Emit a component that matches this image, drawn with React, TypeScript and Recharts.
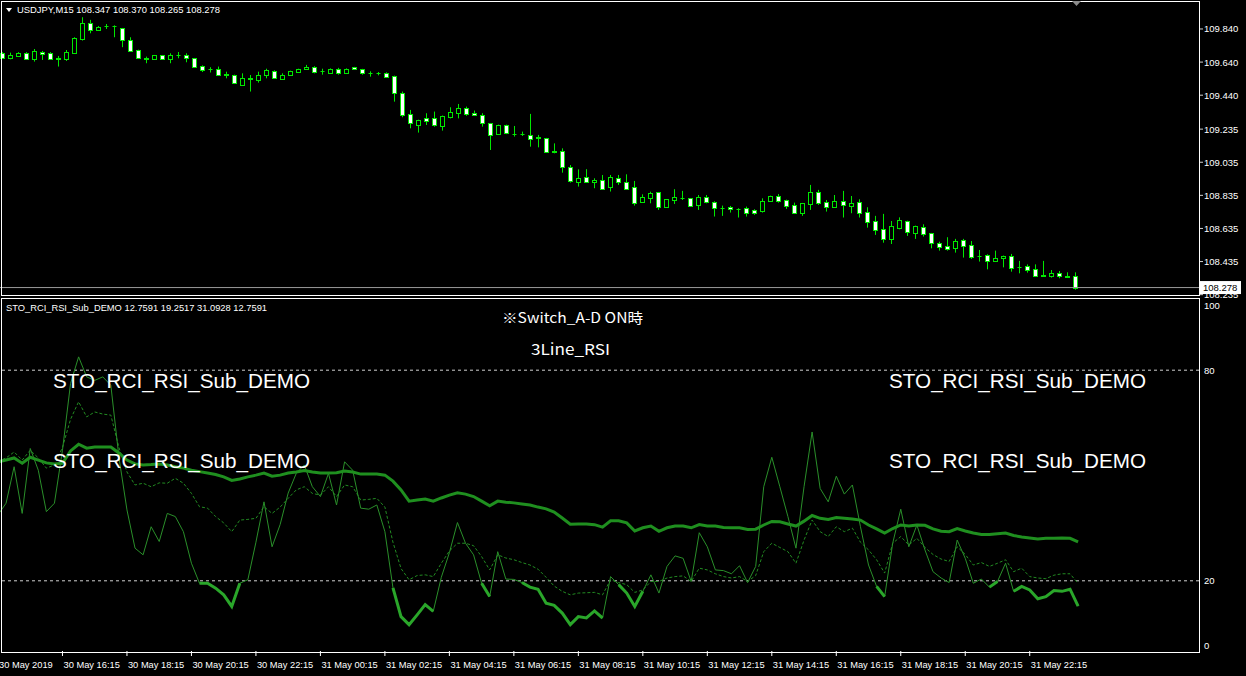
import React from "react"
import { Bar, ComposedChart, Line, LineChart, ReferenceLine, XAxis, YAxis } from "recharts"

const FONT = "'Liberation Sans', Arial, sans-serif"
const LIME = "#00e800"

// USDJPY M15, 30 May 14:15 -> 31 May 23:45
const opens = [
  109.697, 109.663, 109.677, 109.697, 109.661, 109.703, 109.697, 109.663, 109.657, 109.697,
  109.778, 109.874, 109.834, 109.857, 109.859, 109.844, 109.774, 109.713, 109.663, 109.657,
  109.681, 109.657, 109.683, 109.683, 109.663, 109.617, 109.6, 109.597, 109.566, 109.562,
  109.504, 109.54, 109.532, 109.56, 109.588, 109.54, 109.56, 109.58, 109.597, 109.613,
  109.584, 109.576, 109.596, 109.576, 109.609, 109.597, 109.577, 109.574, 109.576, 109.556,
  109.452, 109.325, 109.26, 109.3, 109.3, 109.256, 109.307, 109.335, 109.361, 109.331,
  109.321, 109.27, 109.206, 109.258, 109.205, 109.205, 109.2, 109.186, 109.18, 109.099,
  109.103, 109.004, 108.918, 108.944, 108.918, 108.928, 108.884, 108.938, 108.914, 108.884,
  108.795, 108.821, 108.853, 108.767, 108.807, 108.818, 108.817, 108.777, 108.823, 108.797,
  108.757, 108.765, 108.755, 108.757, 108.747, 108.743, 108.799, 108.831, 108.807, 108.775,
  108.731, 108.783, 108.854, 108.793, 108.767, 108.801, 108.773, 108.793, 108.733, 108.68,
  108.632, 108.572, 108.636, 108.68, 108.61, 108.642, 108.606, 108.545, 108.529, 108.515,
  108.565, 108.535, 108.471, 108.475, 108.441, 108.455, 108.469, 108.405, 108.408, 108.388,
  108.351, 108.35, 108.368, 108.344, 108.347,
]
const highs = [
  109.7, 109.697, 109.7, 109.7, 109.719, 109.707, 109.7, 109.677, 109.713, 109.79,
  109.911, 109.895, 109.858, 109.87, 109.862, 109.846, 109.79, 109.715, 109.673, 109.683,
  109.683, 109.693, 109.701, 109.693, 109.665, 109.62, 109.609, 109.613, 109.582, 109.564,
  109.572, 109.562, 109.582, 109.6, 109.59, 109.572, 109.588, 109.6, 109.623, 109.615,
  109.6, 109.602, 109.605, 109.602, 109.611, 109.599, 109.584, 109.58, 109.578, 109.558,
  109.462, 109.351, 109.292, 109.331, 109.341, 109.317, 109.367, 109.387, 109.371, 109.347,
  109.331, 109.272, 109.262, 109.262, 109.254, 109.22, 109.327, 109.2, 109.182, 109.149,
  109.119, 109.018, 108.992, 108.993, 108.938, 108.958, 108.958, 108.958, 108.962, 108.922,
  108.841, 108.857, 108.855, 108.813, 108.872, 108.862, 108.819, 108.837, 108.837, 108.799,
  108.773, 108.771, 108.757, 108.767, 108.751, 108.817, 108.833, 108.843, 108.809, 108.791,
  108.789, 108.898, 108.868, 108.807, 108.837, 108.862, 108.831, 108.811, 108.763, 108.711,
  108.723, 108.68, 108.702, 108.682, 108.652, 108.66, 108.608, 108.555, 108.582, 108.572,
  108.572, 108.559, 108.505, 108.479, 108.501, 108.471, 108.481, 108.439, 108.418, 108.418,
  108.439, 108.384, 108.378, 108.37, 108.37,
]
const lows = [
  109.66, 109.657, 109.675, 109.655, 109.643, 109.653, 109.655, 109.613, 109.647, 109.69,
  109.77, 109.814, 109.832, 109.84, 109.79, 109.73, 109.703, 109.66, 109.633, 109.655,
  109.655, 109.633, 109.663, 109.639, 109.61, 109.58, 109.577, 109.556, 109.542, 109.508,
  109.502, 109.462, 109.516, 109.542, 109.54, 109.538, 109.558, 109.578, 109.595, 109.572,
  109.564, 109.574, 109.564, 109.572, 109.595, 109.564, 109.552, 109.56, 109.55, 109.401,
  109.307, 109.24, 109.214, 109.26, 109.25, 109.226, 109.3, 109.3, 109.315, 109.315,
  109.25, 109.109, 109.204, 109.205, 109.19, 109.194, 109.129, 109.125, 109.097, 109.089,
  108.972, 108.912, 108.888, 108.912, 108.878, 108.868, 108.858, 108.898, 108.876, 108.773,
  108.791, 108.787, 108.747, 108.765, 108.783, 108.807, 108.771, 108.747, 108.787, 108.707,
  108.711, 108.731, 108.701, 108.707, 108.717, 108.731, 108.797, 108.791, 108.753, 108.729,
  108.711, 108.747, 108.777, 108.737, 108.761, 108.701, 108.727, 108.701, 108.64, 108.596,
  108.549, 108.541, 108.63, 108.59, 108.572, 108.586, 108.515, 108.501, 108.501, 108.489,
  108.459, 108.451, 108.435, 108.388, 108.439, 108.4, 108.374, 108.364, 108.368, 108.344,
  108.344, 108.338, 108.334, 108.34, 108.265,
]
const closes = [
  109.663, 109.681, 109.697, 109.657, 109.707, 109.687, 109.657, 109.659, 109.699, 109.784,
  109.874, 109.834, 109.854, 109.859, 109.857, 109.774, 109.709, 109.663, 109.657, 109.681,
  109.657, 109.685, 109.685, 109.663, 109.613, 109.593, 109.597, 109.564, 109.563, 109.512,
  109.542, 109.543, 109.562, 109.592, 109.542, 109.564, 109.584, 109.596, 109.613, 109.58,
  109.586, 109.6, 109.572, 109.6, 109.597, 109.572, 109.576, 109.572, 109.552, 109.452,
  109.321, 109.27, 109.29, 109.286, 109.26, 109.315, 109.341, 109.361, 109.327, 109.319,
  109.27, 109.2, 109.26, 109.21, 109.204, 109.203, 109.174, 109.184, 109.099, 109.1,
  109.004, 108.924, 108.938, 108.914, 108.928, 108.874, 108.944, 108.918, 108.876, 108.791,
  108.823, 108.847, 108.767, 108.811, 108.823, 108.817, 108.773, 108.823, 108.797, 108.757,
  108.756, 108.751, 108.753, 108.731, 108.727, 108.801, 108.831, 108.801, 108.773, 108.731,
  108.787, 108.854, 108.791, 108.767, 108.801, 108.777, 108.787, 108.731, 108.676, 108.626,
  108.572, 108.65, 108.686, 108.616, 108.65, 108.602, 108.545, 108.525, 108.513, 108.559,
  108.531, 108.465, 108.469, 108.441, 108.455, 108.469, 108.394, 108.404, 108.384, 108.35,
  108.35, 108.368, 108.35, 108.347, 108.278,
]

const rsiFast = [
  38.8, 42.1, 52.5, 39.2, 57.7, 51.5, 39.7, 42.1, 57.2, 76.2,
  83.8, 78.1, 77.1, 78.1, 75.7, 55.3, 40.2, 29.3, 27.4, 35.4,
  31.2, 39.2, 38.3, 34.0, 25.0, 19.3, 19.3, 17.9, 16.0, 12.7,
  19.3, 20.3, 31.0, 42.5, 29.7, 36.0, 45.0, 50.6, 53.0, 46.8,
  44.0, 50.6, 41.6, 53.9, 51.5, 40.7, 40.4, 41.6, 34.0, 18.0,
  9.8, 7.5, 10.3, 13.2, 11.3, 21.0, 28.0, 36.6, 30.7, 27.4,
  19.3, 15.5, 28.3, 20.5, 20.4, 19.5, 18.2, 17.6, 13.6, 13.0,
  10.8, 7.5, 9.8, 9.4, 11.4, 9.4, 21.2, 18.9, 16.5, 12.7,
  17.0, 21.7, 16.5, 24.1, 27.1, 26.4, 19.8, 33.7, 29.7, 23.1,
  22.9, 22.0, 24.3, 19.5, 24.1, 46.8, 55.2, 46.8, 38.3, 29.3,
  46.8, 62.4, 46.3, 42.5, 49.8, 44.7, 47.3, 35.4, 24.5, 18.4,
  15.5, 30.7, 40.4, 29.7, 35.9, 28.8, 22.6, 20.8, 19.5, 31.6,
  26.4, 19.3, 20.5, 18.2, 19.8, 25.0, 17.0, 18.4, 17.4, 14.9,
  15.5, 17.2, 17.0, 17.6, 12.76,
]
const rsiMid = [
  54.0, 55.0, 56.7, 54.4, 57.2, 55.0, 52.1, 53.0, 58.0, 66.0,
  71.0, 66.7, 68.1, 67.5, 67.2, 58.0, 51.0, 47.3, 47.8, 46.8,
  47.9, 47.8, 49.2, 47.8, 44.9, 41.1, 40.7, 38.3, 36.5, 34.0,
  37.3, 37.5, 37.8, 41.1, 39.2, 41.0, 43.5, 45.9, 46.8, 44.9,
  44.4, 46.8, 44.0, 47.3, 46.8, 43.0, 43.2, 43.5, 41.0, 31.0,
  23.5, 20.3, 21.5, 21.7, 21.2, 25.0, 28.5, 30.7, 30.7, 30.0,
  26.9, 23.1, 27.4, 26.5, 26.0, 25.2, 24.5, 23.3, 21.0, 18.5,
  17.0, 16.0, 16.5, 16.6, 16.7, 16.0, 20.3, 19.5, 18.9, 16.7,
  17.4, 19.8, 19.8, 20.8, 21.2, 21.4, 19.8, 23.6, 23.1, 22.0,
  21.2, 20.8, 21.2, 19.8, 21.5, 28.3, 30.7, 29.5, 28.3, 25.0,
  31.6, 37.3, 34.0, 32.6, 35.4, 34.0, 35.0, 31.0, 28.8, 26.0,
  22.2, 30.7, 32.6, 30.2, 32.1, 29.5, 27.5, 26.2, 25.5, 29.7,
  27.5, 24.5, 25.2, 24.1, 25.0, 26.0, 22.6, 23.6, 21.2, 20.8,
  20.6, 21.6, 22.0, 22.0, 19.25,
]
const rsiSlow = [
  53.9, 54.4, 55.0, 53.5, 55.2, 54.4, 53.6, 53.3, 53.5, 57.0,
  58.9, 57.8, 58.1, 58.1, 58.1, 56.4, 54.4, 53.3, 53.0, 53.1,
  53.3, 53.0, 52.5, 52.1, 51.5, 51.1, 50.7, 50.3, 49.6, 48.6,
  49.0, 49.6, 50.1, 50.7, 49.8, 50.1, 50.7, 51.0, 51.4, 51.0,
  50.7, 50.7, 50.8, 51.3, 51.0, 50.4, 50.4, 50.4, 50.1, 48.4,
  45.9, 42.7, 43.0, 43.3, 42.7, 43.6, 44.4, 45.1, 44.7, 44.0,
  42.7, 41.4, 42.7, 42.4, 42.2, 41.9, 41.6, 41.0, 40.5, 39.6,
  37.9, 36.1, 36.2, 36.2, 36.0, 35.3, 37.1, 37.1, 36.5, 34.2,
  35.1, 35.6, 34.1, 35.1, 35.6, 35.6, 35.1, 36.0, 35.6, 35.6,
  35.2, 35.1, 35.1, 34.6, 34.7, 35.9, 36.9, 36.8, 36.2, 35.6,
  37.0, 38.6, 37.8, 37.5, 38.0, 37.8, 37.6, 37.3, 35.9, 34.8,
  33.6, 34.9, 35.9, 35.6, 35.9, 35.8, 34.8, 34.1, 34.0, 34.9,
  34.2, 33.6, 33.2, 33.2, 33.4, 33.6, 32.9, 32.5, 32.2, 31.9,
  32.1, 32.1, 32.2, 32.1, 31.09,
]

const timeLabels = [
  "30 May 2019", "30 May 16:15", "30 May 18:15", "30 May 20:15", "30 May 22:15",
  "31 May 00:15", "31 May 02:15", "31 May 04:15", "31 May 06:15", "31 May 08:15",
  "31 May 10:15", "31 May 12:15", "31 May 14:15", "31 May 16:15", "31 May 18:15",
  "31 May 20:15", "31 May 22:15",
]
const priceTicks = [109.84, 109.64, 109.44, 109.235, 109.035, 108.835, 108.635, 108.435, 108.235]
const rsiTicks = [0, 20, 80, 100]
const bid = 108.278
const oversold = 20
const overbought = 80

const SLOTS = 150 // 135 bars + empty space on the right
const timeTickIdx = timeLabels.map((_, k) => k * 8)

const rows = Array.from({ length: SLOTS }, (_, i) => {
  if (i >= opens.length) return { t: i }
  const f = rsiFast[i]
  return {
    t: i,
    o: opens[i],
    h: highs[i],
    l: lows[i],
    c: closes[i],
    range: [lows[i], highs[i]],
    fast: f,
    mid: rsiMid[i],
    slow: rsiSlow[i],
    low: f < oversold ? f : null,
  }
})

function Candle(props: any) {
  const { x, y, width, height, payload } = props
  if (!payload || payload.o == null) return null
  const { o, h, l, c } = payload
  const top = Math.min(y, y + height)
  const hgt = Math.abs(height)
  const k = hgt / (h - l)
  const cx = Math.round(x + width / 2) + 0.5
  const yo = top + (h - o) * k
  const yc = top + (h - c) * k
  const bTop = Math.round(Math.min(yo, yc)) + 0.5
  const bBot = Math.round(Math.max(yo, yc)) + 0.5
  return (
    <g>
      <line x1={cx} x2={cx} y1={top} y2={top + hgt} stroke={LIME} strokeWidth={1} />
      {bBot - bTop < 1 ? (
        <line x1={cx - 2} x2={cx + 2} y1={bTop} y2={bTop} stroke={LIME} strokeWidth={1} />
      ) : (
        <rect x={cx - 2} y={bTop} width={4} height={bBot - bTop} fill={c > o ? "#000" : "#fff"} stroke={LIME} strokeWidth={1} />
      )}
    </g>
  )
}

function PriceTick({ x, y, payload }: any) {
  return (
    <text x={x} y={y + 3.5} fill="#fff" fontSize={9.5} fontFamily={FONT}>
      {payload.value.toFixed(3)}
    </text>
  )
}

function RsiTick({ x, y, payload }: any) {
  const v = payload.value
  const dy = v === 100 ? 9 : v === 0 ? -2 : 3.5
  return (
    <text x={x} y={y + dy} fill="#fff" fontSize={9.5} fontFamily={FONT}>
      {v}
    </text>
  )
}

function TimeTick({ x, y, payload }: any) {
  return (
    <text x={x + 1} y={y + 9.5} fill="#fff" fontSize={9.3} fontFamily={FONT}>
      {timeLabels[payload.value / 8]}
    </text>
  )
}

function BidLabel({ viewBox }: any) {
  if (!viewBox) return null
  const x = viewBox.x + viewBox.width + 1
  const y = viewBox.y
  return (
    <g>
      <rect x={x} y={y - 6.5} width={41} height={13} fill="#fff" />
      <text x={x + 3} y={y + 3.5} fill="#000" fontSize={9.5} fontFamily={FONT}>
        {bid.toFixed(3)}
      </text>
    </g>
  )
}

const box = (top: number, height: number): React.CSSProperties => ({
  position: "absolute",
  left: 1,
  top,
  width: 1199,
  height,
  border: "1px solid #fff",
  boxSizing: "border-box",
  pointerEvents: "none",
})

export default function App() {
  return (
    <div style={{ position: "absolute", left: 0, top: 0, width: 1246, height: 676, background: "#000", overflow: "hidden" }}>
      <div style={{ position: "absolute", left: 0, top: 0 }}>
        <ComposedChart width={1246} height={298} data={rows} margin={{ top: 1, right: 0, left: -2, bottom: 3 }}>
          <XAxis dataKey="t" type="category" hide />
          <YAxis
            orientation="right"
            width={47}
            domain={[108.233, 110.009]}
            allowDataOverflow
            ticks={priceTicks}
            interval={0}
            tickSize={4}
            tickMargin={1}
            axisLine={false}
            tickLine={{ stroke: "#d0d0d0" }}
            tick={<PriceTick />}
          />
          <ReferenceLine y={bid} stroke="#9a9a9a" strokeWidth={1} label={<BidLabel />} />
          <Bar dataKey="range" shape={<Candle />} isAnimationActive={false} />
        </ComposedChart>
      </div>

      <div style={{ position: "absolute", left: 0, top: 298 }}>
        <LineChart width={1246} height={378} data={rows} margin={{ top: 2, right: 0, left: -2, bottom: 0 }}>
          <XAxis
            dataKey="t"
            type="category"
            height={25}
            ticks={timeTickIdx}
            interval={0}
            tickSize={5}
            axisLine={false}
            tickLine={{ stroke: "#fff" }}
            tick={<TimeTick />}
          />
          <YAxis
            orientation="right"
            width={47}
            domain={[0, 100]}
            allowDataOverflow
            ticks={rsiTicks}
            interval={0}
            tickSize={4}
            tickMargin={1}
            axisLine={false}
            tickLine={false}
            tick={<RsiTick />}
          />
          <ReferenceLine y={overbought} stroke="#d0d0d0" strokeDasharray="3 3" />
          <ReferenceLine y={oversold} stroke="#d0d0d0" strokeDasharray="3 3" />
          <Line dataKey="mid" stroke="#228B22" strokeWidth={1} strokeDasharray="3 2" dot={false} isAnimationActive={false} />
          <Line dataKey="fast" stroke="#2a8f2a" strokeWidth={1} dot={false} isAnimationActive={false} />
          <Line dataKey="slow" stroke="#1f8f1f" strokeWidth={3} dot={false} isAnimationActive={false} />
          <Line dataKey="low" stroke="#2aa62a" strokeWidth={3} dot={false} connectNulls={false} isAnimationActive={false} />
        </LineChart>
      </div>

      <div style={box(1, 295)} />
      <div style={box(298, 355)} />

      <svg width={1246} height={676} style={{ position: "absolute", left: 0, top: 0, pointerEvents: "none" }}>
        <polygon points="6,8 12,8 9,12" fill="#fff" />
        <text x={17} y={13} fill="#fff" fontSize={9.5} fontFamily={FONT} textLength={203} lengthAdjust="spacingAndGlyphs">
          USDJPY,M15  108.347 108.370 108.265 108.278
        </text>
        <polygon points="1072,1 1081,1 1076.5,6" fill="#8a8a8a" />
        <text x={6} y={311} fill="#fff" fontSize={9.5} fontFamily={FONT} textLength={261} lengthAdjust="spacingAndGlyphs">
          STO_RCI_RSI_Sub_DEMO 12.7591 19.2517 31.0928 12.7591
        </text>
        <text x={502} y={323} fill="#fff" fontSize={14} fontFamily="'Noto Sans CJK JP', sans-serif" textLength={141} lengthAdjust="spacingAndGlyphs">
          ※Switch_A-D  ON時
        </text>
        <text x={531} y={355} fill="#fff" fontSize={15} fontFamily="'Noto Sans CJK JP', sans-serif" textLength={79} lengthAdjust="spacingAndGlyphs">
          3Line_RSI
        </text>
        {[
          [53, 388],
          [53, 468],
          [889, 388],
          [889, 468],
        ].map(([x, y]) => (
          <text key={`${x}-${y}`} x={x} y={y} fill="#fff" fontSize={21} fontFamily={FONT} textLength={257} lengthAdjust="spacingAndGlyphs">
            STO_RCI_RSI_Sub_DEMO
          </text>
        ))}
      </svg>
    </div>
  )
}
